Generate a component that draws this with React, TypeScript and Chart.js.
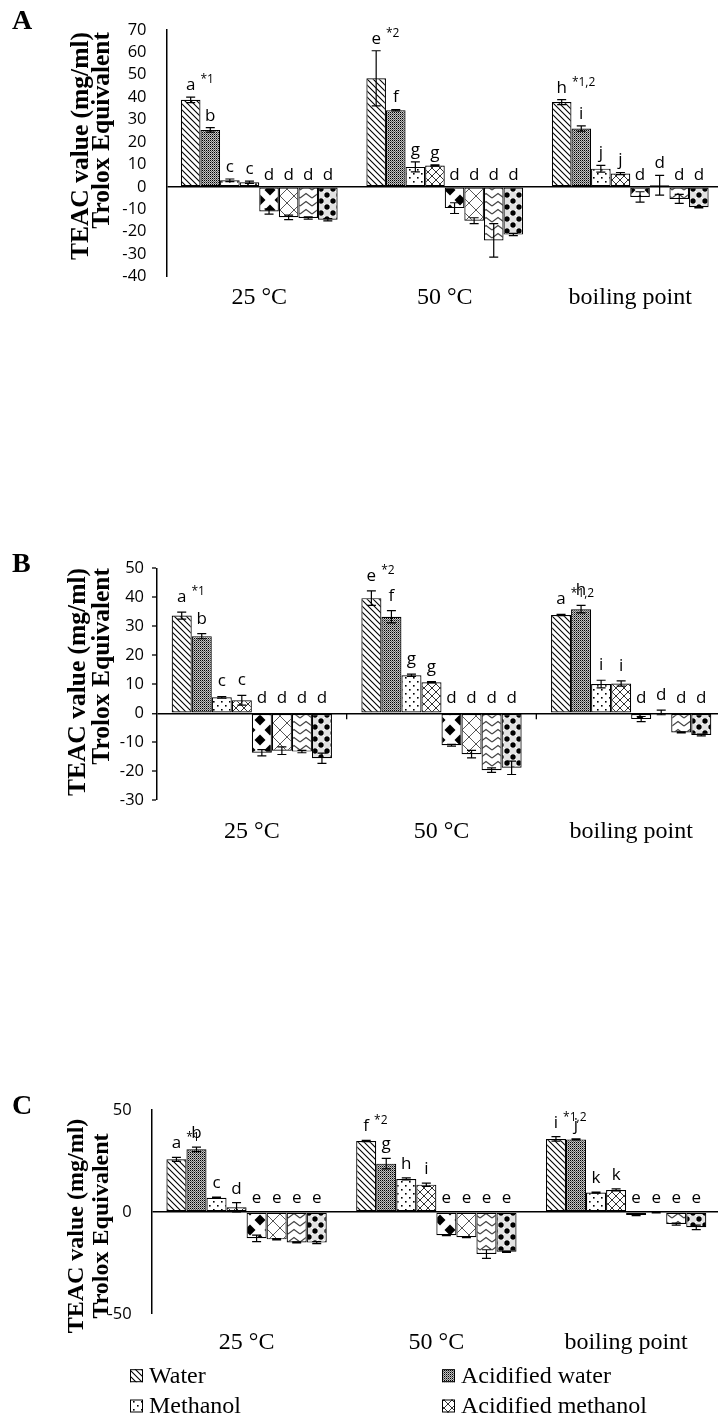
import React, { useEffect, useRef } from "react";
import { Chart, registerables } from "chart.js";

Chart.register(...registerables);

// ---------------- DATA ----------------
const categories = ["25 °C", "50 °C", "boiling point"];
const seriesNames = [
  "Water",
  "Acidified water",
  "Methanol",
  "Acidified methanol",
  "Series 5",
  "Series 6",
  "Series 7",
  "Series 8",
];
const legendCount = 4; // only the first four series appear in the legend
const yTitleLines = ["TEAC value (mg/ml)", "Trolox Equivalent"];

// Panel A
const valuesA = [
  [38.8, 48.4, 37.8],
  [25.4, 34.2, 26.0],
  [2.9, 8.9, 8.1],
  [2.0, 9.5, 5.9],
  [-11.0, -9.5, -4.5],
  [-13.6, -15.1, 0.7],
  [-13.9, -23.9, -5.4],
  [-14.7, -21.3, -9.1],
];
const errorsA = [
  [1.2, 12.3, 1.1],
  [1.0, 0.3, 1.2],
  [0.6, 2.2, 1.5],
  [0.5, 0.3, 0.5],
  [1.2, 2.4, 2.3],
  [1.0, 1.3, 4.4],
  [0.5, 7.5, 2.0],
  [0.5, 0.5, 0.3],
];
const lettersA = [
  ["a", "e", "h"],
  ["b", "f", "i"],
  ["c", "g", "j"],
  ["c", "g", "j"],
  ["d", "d", "d"],
  ["d", "d", "d"],
  ["d", "d", "d"],
  ["d", "d", "d"],
];
const starsA = ["*1", "*2", "*1,2"];

// Panel B
const valuesB = [
  [33.7, 39.7, 33.9],
  [26.6, 33.3, 35.9],
  [5.5, 13.1, 10.1],
  [4.5, 10.7, 10.3],
  [-13.6, -11.0, -2.0],
  [-12.9, -14.1, 0.3],
  [-13.2, -19.6, -6.6],
  [-15.5, -18.8, -7.5],
];
const errorsB = [
  [1.2, 2.5, 0.2],
  [0.9, 2.1, 1.3],
  [0.3, 0.4, 1.3],
  [1.7, 0.2, 0.9],
  [1.1, 0.3, 0.9],
  [1.3, 1.3, 0.8],
  [0.4, 0.8, 0.2],
  [1.8, 2.3, 0.3],
];
const lettersB = [
  ["a", "e", "a"],
  ["b", "f", "h"],
  ["c", "g", "i"],
  ["c", "g", "i"],
  ["d", "d", "d"],
  ["d", "d", "d"],
  ["d", "d", "d"],
  ["d", "d", "d"],
];
const starsB = ["*1", "*2", "*1,2"];

// Panel C
const valuesC = [
  [25.8, 34.8, 35.8],
  [30.7, 23.7, 35.6],
  [7.0, 16.2, 9.5],
  [2.3, 13.4, 10.8],
  [-12.9, -11.4, -1.5],
  [-13.4, -12.4, -0.3],
  [-14.9, -20.6, -5.9],
  [-15.0, -19.5, -7.5],
];
const errorsC = [
  [1.0, 0.3, 1.1],
  [1.1, 2.6, 0.2],
  [0.3, 0.5, 0.2],
  [2.3, 0.8, 0.5],
  [1.6, 0.2, 0.3],
  [0.3, 0.2, 0.2],
  [0.3, 2.1, 0.5],
  [0.5, 0.3, 1.1],
];
const lettersC = [
  ["a", "f", "i"],
  ["b", "g", "j"],
  ["c", "h", "k"],
  ["d", "i", "k"],
  ["e", "e", "e"],
  ["e", "e", "e"],
  ["e", "e", "e"],
  ["e", "e", "e"],
];
const starsC = ["*1", "*2", "*1,2"];

// ---------------- LAYOUT / STYLE ----------------
const CANVAS_W = 740;
const X_AXIS_H = 60;

type PanelCfg = {
  id: string;
  top: number;
  height: number;
  chartTop: number;
  chartBottom: number;
  left: number;
  right: number;
  yMin: number;
  yMax: number;
  yStep: number;
  values: number[][];
  errors: number[][];
  letters: string[][];
  stars: string[];
  yTickMarks: boolean;
  tickPad: number;
  xPad: number;
  labelGap: number;
  titleAlign: "right" | "center";
  titleY: number;
  titleX: number[];
  titleSize: number;
  letterY: number;
  catTicks: boolean;
  legend: boolean;
};

const panels: PanelCfg[] = [
  {
    id: "A", top: 0, height: 340, chartTop: 25.5, chartBottom: 276.5, left: 166.5, right: 723,
    yMin: -40, yMax: 70, yStep: 10,
    values: valuesA, errors: errorsA, letters: lettersA, stars: starsA,
    yTickMarks: false, tickPad: 20, xPad: 7, labelGap: 7,
    titleAlign: "right", titleY: 32, titleX: [81, 102], titleSize: 25.5,
    letterY: 22, catTicks: false, legend: false,
  },
  {
    id: "B", top: 520, height: 360, chartTop: 48.3, chartBottom: 280.3, left: 157, right: 726,
    yMin: -30, yMax: 50, yStep: 10,
    values: valuesB, errors: errorsB, letters: lettersB, stars: starsB,
    yTickMarks: true, tickPad: 8, xPad: 17.3, labelGap: 10,
    titleAlign: "right", titleY: 48, titleX: [78, 102], titleSize: 25.5,
    letterY: 45, catTicks: true, legend: false,
  },
  {
    id: "C", top: 1060, height: 358, chartTop: 50, chartBottom: 254, left: 151.7, right: 721,
    yMin: -50, yMax: 50, yStep: 50,
    values: valuesC, errors: errorsC, letters: lettersC, stars: starsC,
    yTickMarks: false, tickPad: 20, xPad: 14.6, labelGap: 9,
    titleAlign: "center", titleY: 166, titleX: [77, 102], titleSize: 24,
    letterY: 47, catTicks: false, legend: true,
  },
];

// ---------------- PATTERNS ----------------
function tile(w: number, h: number, draw: (g: CanvasRenderingContext2D) => void) {
  const c = document.createElement("canvas");
  c.width = w;
  c.height = h;
  const g = c.getContext("2d")!;
  g.fillStyle = "#fff";
  g.fillRect(0, 0, w, h);
  draw(g);
  return c;
}

function makePatterns(ctx: CanvasRenderingContext2D): (CanvasPattern | string)[] {
  const tiles: HTMLCanvasElement[] = [
    // Water: diagonal stripes
    tile(6, 6, (g) => {
      g.strokeStyle = "#000";
      g.lineWidth = 1.1;
      g.beginPath();
      g.moveTo(-1, -1); g.lineTo(7, 7);
      g.moveTo(-1, 5); g.lineTo(1, 7);
      g.moveTo(5, -1); g.lineTo(7, 1);
      g.stroke();
    }),
    // Acidified water: dark stipple
    tile(2, 2, (g) => {
      g.fillStyle = "#c4c4c4";
      g.fillRect(0, 0, 2, 2);
      g.fillStyle = "#000";
      g.fillRect(0, 0, 1, 1);
      g.fillStyle = "#666";
      g.fillRect(1, 1, 1, 1);
    }),
    // Methanol: sparse dots
    tile(8, 8, (g) => {
      g.fillStyle = "#000";
      g.fillRect(1, 1, 1.6, 1.6);
      g.fillRect(5, 5, 1.6, 1.6);
    }),
    // Acidified methanol: diagonal lattice
    tile(8, 8, (g) => {
      g.strokeStyle = "#333";
      g.lineWidth = 1;
      g.beginPath();
      g.moveTo(-1, 9); g.lineTo(9, -1);
      g.moveTo(-1, -1); g.lineTo(9, 9);
      g.stroke();
    }),
    // Series 5: black diamonds
    tile(20, 20, (g) => {
      g.fillStyle = "#000";
      const dia = (cx: number, cy: number, r: number) => {
        g.beginPath();
        g.moveTo(cx, cy - r); g.lineTo(cx + r, cy); g.lineTo(cx, cy + r); g.lineTo(cx - r, cy);
        g.closePath();
        g.fill();
      };
      dia(10, 10, 5.5);
      dia(0, 0, 5.5); dia(20, 0, 5.5); dia(0, 20, 5.5); dia(20, 20, 5.5);
    }),
    // Series 6: wide X lattice
    tile(14, 14, (g) => {
      g.strokeStyle = "#555";
      g.lineWidth = 1;
      g.beginPath();
      g.moveTo(0, 0); g.lineTo(14, 14);
      g.moveTo(14, 0); g.lineTo(0, 14);
      g.stroke();
    }),
    // Series 7: zigzag
    tile(12, 8, (g) => {
      g.strokeStyle = "#444";
      g.lineWidth = 1.2;
      g.beginPath();
      g.moveTo(0, 6); g.lineTo(6, 1.5); g.lineTo(12, 6);
      g.stroke();
    }),
    // Series 8: circles on checker
    tile(12, 12, (g) => {
      g.fillStyle = "#e2e2e2";
      g.fillRect(6, 0, 6, 6);
      g.fillRect(0, 6, 6, 6);
      g.fillStyle = "#000";
      g.beginPath(); g.arc(3, 3, 2.7, 0, Math.PI * 2); g.fill();
      g.beginPath(); g.arc(9, 9, 2.7, 0, Math.PI * 2); g.fill();
    }),
  ];
  return tiles.map((t) => ctx.createPattern(t, "repeat") || "#fff");
}

// ---------------- CHART ----------------
function Panel({ cfg }: { cfg: PanelCfg }) {
  const ref = useRef<HTMLCanvasElement>(null);

  useEffect(() => {
    const canvas = ref.current!;
    const ctx = canvas.getContext("2d")!;
    const patterns = makePatterns(ctx);

    const overlay = {
      id: "overlay" + cfg.id,
      afterDatasetsDraw(chart: any) {
        const c: CanvasRenderingContext2D = chart.ctx;
        const ys = chart.scales.y;
        c.save();
        // error bars
        c.strokeStyle = "#000";
        c.lineWidth = 1.2;
        cfg.values.forEach((row, i) => {
          const meta = chart.getDatasetMeta(i);
          row.forEach((v, j) => {
            const x = meta.data[j].x;
            const e = cfg.errors[i][j];
            const y1 = ys.getPixelForValue(v + e);
            const y2 = ys.getPixelForValue(v - e);
            c.beginPath();
            c.moveTo(x, y1); c.lineTo(x, y2);
            c.moveTo(x - 4.5, y1); c.lineTo(x + 4.5, y1);
            c.moveTo(x - 4.5, y2); c.lineTo(x + 4.5, y2);
            c.stroke();
          });
        });
        // significance letters
        c.fillStyle = "#000";
        c.textBaseline = "alphabetic";
        cfg.values.forEach((row, i) => {
          const meta = chart.getDatasetMeta(i);
          row.forEach((v, j) => {
            const x = meta.data[j].x;
            const e = cfg.errors[i][j];
            const refY = ys.getPixelForValue(Math.max(0, v + e));
            const by = refY - cfg.labelGap;
            const txt = cfg.letters[i][j];
            c.font = '17px "Open Sans"';
            c.textAlign = "center";
            c.fillText(txt, x, by);
            if (i === 0 && cfg.stars[j]) {
              const w = c.measureText(txt).width;
              c.font = '12px "Open Sans"';
              c.textAlign = "left";
              c.fillText(cfg.stars[j], x + w / 2 + 5, by - 7);
            }
          });
        });
        c.restore();
      },
      afterDraw(chart: any) {
        const c: CanvasRenderingContext2D = chart.ctx;
        c.save();
        c.fillStyle = "#000";
        // y-axis title
        c.font = `bold ${cfg.titleSize}px "Liberation Serif"`;
        c.textBaseline = "middle";
        c.textAlign = cfg.titleAlign;
        yTitleLines.forEach((t, k) => {
          c.save();
          c.translate(cfg.titleX[k], cfg.titleY);
          c.rotate(-Math.PI / 2);
          c.fillText(t, 0, 0);
          c.restore();
        });
        // panel letter
        c.font = 'bold 28px "Liberation Serif"';
        c.textAlign = "left";
        c.fillText(cfg.id, 12, cfg.letterY);
        // category boundary tick marks on the zero line
        if (cfg.catTicks) {
          const xs = chart.scales.x;
          const zy = chart.scales.y.getPixelForValue(0);
          c.strokeStyle = "#000";
          c.lineWidth = 1.3;
          for (let k = 0; k < categories.length - 1; k++) {
            const bx = (xs.getPixelForTick(k) + xs.getPixelForTick(k + 1)) / 2;
            c.beginPath();
            c.moveTo(bx, zy);
            c.lineTo(bx, zy + 6);
            c.stroke();
          }
        }
        // legend
        if (cfg.legend) {
          const cols = [130, 442];
          const rows = [chart.chartArea.bottom + 61.7, chart.chartArea.bottom + 92];
          c.font = '24px "Liberation Serif"';
          c.textAlign = "left";
          c.textBaseline = "middle";
          for (let k = 0; k < legendCount; k++) {
            const bx = cols[k % 2];
            const by = rows[Math.floor(k / 2)];
            c.fillStyle = patterns[k] as any;
            c.fillRect(bx, by - 6.5, 13, 13);
            c.strokeStyle = "#000";
            c.lineWidth = 1;
            c.strokeRect(bx + 0.5, by - 6, 12, 12);
            c.fillStyle = "#000";
            c.fillText(seriesNames[k], bx + 19, by + 1);
          }
        }
        c.restore();
      },
    };

    const chart = new Chart(ctx, {
      type: "bar",
      data: {
        labels: categories,
        datasets: cfg.values.map((row, i) => ({
          label: seriesNames[i],
          data: row,
          backgroundColor: patterns[i] as any,
          borderColor: "#000",
          borderWidth: 1.2,
          borderSkipped: false,
          categoryPercentage: 0.845,
          barPercentage: 1,
        })),
      },
      options: {
        responsive: false,
        animation: false,
        devicePixelRatio: 1,
        layout: {
          padding: {
            left: 0,
            right: CANVAS_W - cfg.right,
            top: cfg.chartTop,
            bottom: cfg.height - cfg.chartBottom - X_AXIS_H,
          },
        },
        plugins: {
          legend: { display: false },
          tooltip: { enabled: false },
        },
        scales: {
          x: {
            grid: { display: false, drawTicks: false },
            border: { display: false },
            ticks: {
              font: { family: "Liberation Serif", size: 24 },
              color: "#000",
              padding: cfg.xPad,
              maxRotation: 0,
              autoSkip: false,
            },
            afterFit: (s: any) => {
              s.height = X_AXIS_H;
            },
          },
          y: {
            min: cfg.yMin,
            max: cfg.yMax,
            ticks: {
              stepSize: cfg.yStep,
              autoSkip: false,
              font: { family: "Open Sans", size: 16.5 },
              color: "#000",
              padding: cfg.tickPad,
            },
            grid: {
              drawTicks: cfg.yTickMarks,
              tickLength: 5,
              tickColor: "#000",
              tickWidth: 1.3,
              color: (c: any) => (c.tick && c.tick.value === 0 ? "#000" : "rgba(0,0,0,0)"),
              lineWidth: (c: any) => (c.tick && c.tick.value === 0 ? 1.5 : 0),
            },
            border: { display: true, color: "#000", width: 1.5 },
            afterFit: (s: any) => {
              s.width = cfg.left;
            },
          },
        },
      },
      plugins: [overlay],
    } as any);

    return () => chart.destroy();
  }, [cfg]);

  return (
    <canvas
      ref={ref}
      width={CANVAS_W}
      height={cfg.height}
      style={{ position: "absolute", left: 0, top: cfg.top, width: CANVAS_W, height: cfg.height }}
    />
  );
}

export default function App() {
  return (
    <div
      style={{
        position: "absolute",
        left: 0,
        top: 0,
        width: 718,
        height: 1418,
        overflow: "hidden",
        background: "#fff",
      }}
    >
      {panels.map((p) => (
        <Panel key={p.id} cfg={p} />
      ))}
    </div>
  );
}
